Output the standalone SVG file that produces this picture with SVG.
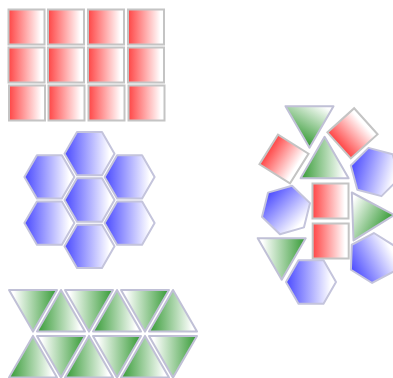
<svg xmlns="http://www.w3.org/2000/svg" xmlns:xlink="http://www.w3.org/1999/xlink" width="393" height="378" viewBox="0 0 393 378">
  <defs>
    <linearGradient id="gR" x1="0" y1="0" x2="1" y2="0">
      <stop offset="0" stop-color="#ff4545"/>
      <stop offset="0.9" stop-color="#ffffff"/>
    </linearGradient>
    <linearGradient id="gB" x1="0" y1="0" x2="1" y2="0">
      <stop offset="0" stop-color="#4a4aff"/>
      <stop offset="0.9" stop-color="#ffffff"/>
    </linearGradient>
    <linearGradient id="gG" x1="0" y1="0" x2="1" y2="0">
      <stop offset="0" stop-color="#349a34"/>
      <stop offset="0.9" stop-color="#ffffff"/>
    </linearGradient>
    <rect id="sq" x="-18" y="-17.5" width="36" height="35"/>
    <polygon id="hex" points="25,0 12.5,21.65 -12.5,21.65 -25,0 -12.5,-21.65 12.5,-21.65"/>
    <polygon id="tri" points="0,-27.71 24,13.86 -24,13.86"/>
  </defs>
  <style>
    .s { fill: url(#gR); stroke: #c4c4c4; stroke-width: 2; }
    .h { fill: url(#gB); stroke: #c4c4dc; stroke-width: 2; stroke-linejoin: round; }
    .t { fill: url(#gG); stroke: #c0c0d6; stroke-width: 2; stroke-linejoin: round; }
  </style>
  <rect width="393" height="378" fill="#ffffff"/>

  <g id="squares">
    <use id="sq1" href="#sq" class="s" transform="translate(26.5,27)"/>
    <use id="sq2" href="#sq" class="s" transform="translate(66,27)"/>
    <use id="sq3" href="#sq" class="s" transform="translate(106,27)"/>
    <use id="sq4" href="#sq" class="s" transform="translate(146,27)"/>
    <use id="sq5" href="#sq" class="s" transform="translate(26.5,65)"/>
    <use id="sq6" href="#sq" class="s" transform="translate(66,65)"/>
    <use id="sq7" href="#sq" class="s" transform="translate(106,65)"/>
    <use id="sq8" href="#sq" class="s" transform="translate(146,65)"/>
    <use id="sq9" href="#sq" class="s" transform="translate(27,103)"/>
    <use id="sq10" href="#sq" class="s" transform="translate(66.5,103)"/>
    <use id="sq11" href="#sq" class="s" transform="translate(106.5,103)"/>
    <use id="sq12" href="#sq" class="s" transform="translate(146.5,103)"/>
  </g>

  <g id="hexagons">
    <use id="hx1" href="#hex" class="h" transform="translate(89.5,153.7)"/>
    <use id="hx2" href="#hex" class="h" transform="translate(49.4,176.9)"/>
    <use id="hx3" href="#hex" class="h" transform="translate(129.6,176.9)"/>
    <use id="hx4" href="#hex" class="h" transform="translate(89.5,200)"/>
    <use id="hx5" href="#hex" class="h" transform="translate(49.4,223.1)"/>
    <use id="hx6" href="#hex" class="h" transform="translate(129.6,223.1)"/>
    <use id="hx7" href="#hex" class="h" transform="translate(89.5,246.3)"/>
  </g>

  <g id="triangles">
    <use id="tr1" href="#tri" class="t" transform="translate(33,303.9) rotate(180)"/>
    <use id="tr2" href="#tri" class="t" transform="translate(61,317.7)"/>
    <use id="tr3" href="#tri" class="t" transform="translate(89,303.9) rotate(180)"/>
    <use id="tr4" href="#tri" class="t" transform="translate(117,317.7)"/>
    <use id="tr5" href="#tri" class="t" transform="translate(145,303.9) rotate(180)"/>
    <use id="tr6" href="#tri" class="t" transform="translate(173,317.7)"/>
    <use id="tr7" href="#tri" class="t" transform="translate(33,363.6)"/>
    <use id="tr8" href="#tri" class="t" transform="translate(61,349.9) rotate(180)"/>
    <use id="tr9" href="#tri" class="t" transform="translate(89,363.6)"/>
    <use id="tr10" href="#tri" class="t" transform="translate(117,349.9) rotate(180)"/>
    <use id="tr11" href="#tri" class="t" transform="translate(145,363.6)"/>
    <use id="tr12" href="#tri" class="t" transform="translate(173,349.9) rotate(180)"/>
  </g>

  <g id="mixed">
    <use id="mA" href="#tri" class="t" transform="translate(309.5,120) rotate(-60)"/>
    <use id="mB" href="#sq" class="s" transform="translate(352.5,133.3) rotate(-42)"/>
    <use id="mC" href="#sq" class="s" transform="translate(284,159) rotate(32)"/>
    <use id="mD" href="#tri" class="t" transform="translate(324.6,164.5)"/>
    <use id="mE" href="#hex" class="h" transform="translate(375,172) rotate(15)"/>
    <use id="mF" href="#hex" class="h" transform="translate(286,210) rotate(44)"/>
    <use id="mG" href="#sq" class="s" transform="translate(330.5,201)"/>
    <use id="mH" href="#sq" class="s" transform="translate(330.7,241)"/>
    <use id="mI" href="#tri" class="t" transform="translate(366.5,216) rotate(208)"/>
    <use id="mJ" href="#tri" class="t" transform="translate(281.7,252) rotate(180)"/>
    <use id="mK" href="#hex" class="h" transform="translate(311,282)"/>
    <use id="mL" href="#hex" class="h" transform="translate(373,258) rotate(-28)"/>
  </g>
</svg>
